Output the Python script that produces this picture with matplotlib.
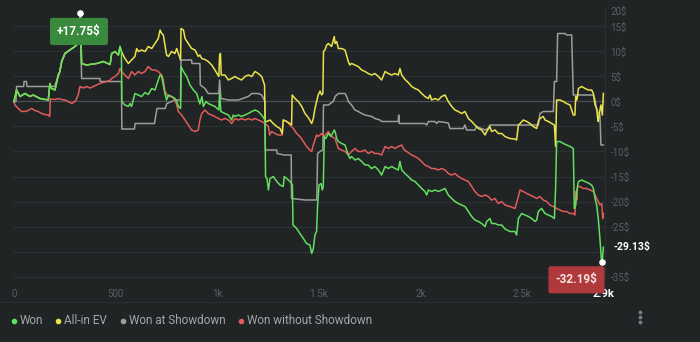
import numpy as np
import matplotlib.pyplot as plt
from matplotlib.lines import Line2D

plt.rcParams['font.family'] = ['Roboto', 'DejaVu Sans']

# ---- data (hands, $) ----
won_x = [0, 13, 30, 54, 79, 95, 128, 169, 177, 185, 202, 218, 226, 235, 251, 275, 300, 322, 327, 333,
         357, 407, 440, 473, 481, 497, 514, 522, 529, 531, 546, 563, 571, 579, 595, 612, 628, 645, 661,
         678, 694, 710, 719, 727, 735, 743, 751, 760, 776, 792, 801, 809, 820, 822, 834, 850, 866, 883,
         899, 915, 925, 932, 945, 956, 973, 989, 1008, 1012, 1018, 1038, 1055, 1071, 1079, 1087, 1104,
         1120, 1137, 1153, 1170, 1186, 1202, 1219, 1235, 1238, 1245, 1252, 1260, 1276, 1293, 1309, 1325,
         1330, 1342, 1358, 1370, 1373, 1391, 1407, 1424, 1440, 1456, 1465, 1473, 1481, 1489, 1494, 1501,
         1511, 1517, 1522, 1527, 1534, 1547, 1560, 1576, 1580, 1588, 1596, 1612, 1629, 1645, 1653, 1661,
         1678, 1694, 1711, 1727, 1743, 1760, 1776, 1793, 1809, 1826, 1842, 1858, 1875, 1891, 1899, 1908,
         1924, 1940, 1957, 1973, 1990, 2006, 2022, 2031, 2039, 2055, 2071, 2088, 2104, 2121, 2137, 2154,
         2170, 2186, 2203, 2219, 2236, 2252, 2268, 2285, 2301, 2318, 2326, 2342, 2350, 2367, 2383, 2400,
         2416, 2440, 2465, 2473, 2482, 2498, 2514, 2531, 2547, 2564, 2572, 2580, 2596, 2613, 2629, 2646,
         2659, 2665, 2670, 2687, 2703, 2719, 2736, 2752, 2757, 2764, 2769, 2777, 2793, 2810, 2826, 2842,
         2851, 2859, 2867, 2875, 2883, 2890, 2894, 2900]
won_y = [0, 2.3, 1.0, 1.6, 1.0, 1.3, 0.6, 0.3, 3.6, 2.6, 2.3, 5.3, 6.0, 8.0, 9.6, 10.3, 11.0, 11.8, 17.75, 7.6,
         7.3, 7.6, 8.0, 7.4, 9.6, 10.0, 9.3, 11.0, 10.0, 0.0, -0.7, -1.0, -0.4, -1.0, 1.6, 1.3, 1.0, 1.8, 1.4,
         2.6, 2.3, 4.3, 5.3, 5.0, 3.3, 1.6, 0.3, 1.3, 1.0, 0.6, 0.0, -1.0, -1.4, 7.0, 6.0, 5.0, 3.3, 2.3,
         1.6, -0.5, 1.0, -1.0, 0.0, -0.4, -0.7, -1.0, -1.7, 1.6, -2.0, -2.4, -2.7, -3.7, -2.7, -3.0, -2.7,
         -3.0, -2.7, -2.4, -2.0, -1.7, -2.0, -2.7, -3.7, -15.0, -15.4, -17.7, -15.4, -15.0, -16.0, -16.7, -17.0,
         -15.0, -15.4, -16.0, -16.7, -24.7, -25.4, -26.4, -27.4, -28.4, -28.7, -30.4, -29.4, -26.7, -26.0, -20.7, -16.7,
         -16.4, -17.7, -17.0, -7.0, -7.4, -6.4, -7.0, -5.7, -6.0, -7.4, -8.0, -8.4, -8.7, -10.7, -11.4, -11.0,
         -11.7, -11.4, -12.0, -12.7, -12.7, -13.4, -13.0, -13.7, -14.7, -13.0, -13.4, -13.0, -13.4, -13.7, -12.0, -13.7,
         -14.4, -15.0, -15.7, -16.0, -16.7, -17.4, -18.0, -18.7, -17.7, -18.0, -17.7, -18.0, -17.7, -17.4, -18.7, -19.4,
         -20.0, -20.4, -20.7, -21.0, -22.0, -23.0, -23.7, -24.0, -24.4, -25.0, -24.0, -23.4, -24.4, -24.4, -24.7, -24.7,
         -25.5, -26.0, -26.0, -26.7, -23.4, -22.4, -22.7, -23.0, -23.4, -24.0, -23.7, -22.0, -21.4, -22.4, -22.7, -23.0,
         -23.4, -17.4, -8.0, -8.0, -8.4, -8.7, -9.0, -9.4, -21.4, -20.7, -18.0, -16.0, -15.7, -16.0, -16.3, -16.7,
         -17.4, -19.4, -20.7, -23.4, -27.4, -31.4, -32.19, -29.13]

# all-in EV matches "Won" until the first big all-in around hand 530
allin_x = won_x[:29] + [546, 563, 579, 595, 604, 612, 628, 645, 661, 678, 694, 710, 719, 727, 735, 743, 751,
         760, 776, 792, 801, 809, 820, 822, 834, 842, 858, 874, 891, 907, 915, 924, 940, 956, 973, 989, 1008,
         1012, 1016, 1020, 1038, 1055, 1071, 1087, 1104, 1120, 1137, 1153, 1170, 1186, 1202, 1219, 1233, 1236,
         1243, 1260, 1276, 1293, 1309, 1320, 1325, 1342, 1358, 1366, 1369, 1383, 1399, 1416, 1432, 1448, 1465,
         1473, 1481, 1489, 1497, 1506, 1514, 1520, 1523, 1530, 1539, 1547, 1563, 1576, 1580, 1588, 1596, 1612,
         1629, 1645, 1653, 1661, 1678, 1694, 1711, 1727, 1743, 1760, 1776, 1793, 1809, 1826, 1842, 1858, 1875,
         1891, 1899, 1908, 1924, 1940, 1957, 1973, 1990, 2006, 2022, 2039, 2047, 2055, 2071, 2088, 2104, 2121,
         2137, 2154, 2170, 2186, 2203, 2219, 2236, 2252, 2268, 2285, 2301, 2318, 2326, 2342, 2350, 2367, 2383,
         2400, 2416, 2440, 2465, 2473, 2482, 2490, 2506, 2523, 2539, 2555, 2572, 2580, 2588, 2604, 2613, 2629,
         2646, 2659, 2665, 2670, 2687, 2703, 2719, 2736, 2744, 2752, 2760, 2764, 2769, 2773, 2777, 2793, 2810,
         2826, 2842, 2851, 2859, 2867, 2872, 2875, 2883, 2888, 2895, 2900]
allin_y = won_y[:29] + [8.6, 7.6, 8.3, 9.0, 10.6, 10.0, 10.3, 10.0, 11.0, 10.6, 11.6, 12.6, 14.3, 13.6, 13.3, 11.3, 9.3,
         9.0, 10.0, 9.6, 10.6, 9.6, 8.3, 14.6, 14.3, 12.6, 11.6, 10.6, 10.3, 9.0, 9.3, 8.6, 8.4, 8.0, 7.3, 6.3, 5.0,
         9.3, 9.6, 5.3, 5.3, 4.3, 4.6, 5.0, 4.6, 4.3, 5.0, 5.3, 5.0, 6.0, 5.6, 5.0, 3.3, -4.0,
         -4.0, -3.7, -4.4, -5.0, -5.4, -6.4, -3.7, -4.0, -4.4, -4.7, 1.3, 0.6, 0.0, -1.0, -2.4, -3.2, -4.4,
         -3.4, -1.4, 0.0, 1.3, 2.1, 1.3, 1.6, 10.0, 10.3, 11.3, 11.6, 11.0, 13.0, 11.6, 12.0, 10.6, 10.6,
         10.3, 8.0, 7.3, 7.6, 7.3, 7.0, 6.3, 6.0, 5.6, 5.3, 5.6, 5.0, 4.3, 6.0, 5.6, 5.3, 5.6,
         5.3, 6.6, 5.3, 4.4, 3.8, 3.0, 2.6, 2.3, 1.6, 1.0, 0.6, 1.3, 0.3, 0.6, 0.3, 1.0, 1.3,
         0.0, -1.0, -1.7, -2.0, -2.4, -2.0, -3.4, -4.0, -4.7, -5.4, -5.7, -6.7, -6.0, -5.0, -6.0, -5.7, -6.4,
         -6.4, -7.0, -7.4, -7.5, -7.7, -4.7, -4.4, -3.7, -4.0, -4.4, -5.0, -5.4, -4.0, -3.4, -3.0, -3.7, -4.0,
         -4.4, -4.7, -9.0, 0.3, 0.3, 0.0, -0.4, -0.7, -1.7, -2.7, -2.7, 1.0, 0.3, 1.0, 2.6, 3.0, 2.6,
         2.3, 2.3, 1.6, -0.7, -1.4, -3.4, -4.0, -1.7, -0.7, -2.7, 1.6]

sd_x = [0, 10, 13, 48, 50, 62, 64, 200, 218, 226, 235, 251, 275, 300, 322, 327, 333, 423, 425, 529, 531,
        593, 596, 692, 697, 704, 744, 752, 776, 792, 820, 822, 874, 876, 915, 917, 940, 956, 1008, 1012,
        1018, 1055, 1104, 1153, 1170, 1202, 1219, 1235, 1237, 1293, 1295, 1330, 1364, 1366, 1432, 1490,
        1494, 1506, 1520, 1523, 1547, 1571, 1580, 1596, 1629, 1637, 1645, 1661, 1678, 1694, 1711, 1727,
        1760, 1776, 1801, 1809, 1891, 1893, 1896, 2022, 2031, 2039, 2071, 2080, 2088, 2137, 2145, 2211,
        2219, 2227, 2268, 2276, 2293, 2318, 2334, 2342, 2580, 2588, 2604, 2654, 2659, 2670, 2675, 2711,
        2719, 2744, 2752, 2850, 2859, 2867, 2883, 2888, 2900]
sd_y = [0, 0, 3.0, 3.0, 4.0, 4.0, 3.0, 3.0, 5.0, 6.0, 8.0, 9.6, 10.3, 11.0, 11.8, 16.5, 4.6, 4.6, 4.0, 4.0, -5.5,
        -5.5, -4.4, -4.4, -3.0, -1.4, -1.4, -0.4, 0.0, 0.3, 0.3, 8.3, 8.3, 7.6, 7.6, 3.3, 2.6, 1.6, 1.6, 4.3,
        0.6, 0.3, 0.3, 1.0, 1.6, 1.6, 1.3, 0.0, -9.7, -9.7, -10.4, -10.7, -10.7, -19.4, -19.7, -19.7,
        -10.4, -10.0, -9.7, -0.7, -0.7, 0.0, 1.0, 1.6, 1.6, 1.0, 0.0, -0.7, -1.7, -2.0, -2.4, -2.7,
        -3.0, -3.4, -3.7, -4.0, -4.0, -2.7, -4.4, -4.4, -4.7, -4.0, -4.0, -4.4, -4.0, -4.3, -5.4, -5.4,
        -4.7, -5.7, -5.7, -5.0, -5.3, -5.7, -5.3, -4.7, -4.7, -2.4, -2.0, -2.0, 4.0, 4.0, 13.6, 13.6,
        13.3, 13.3, 1.3, 1.3, 0.3, -1.7, -2.7, -8.7, -8.7]

nosd_x = [0, 5, 21, 38, 54, 70, 87, 103, 120, 136, 152, 169, 176, 179, 202, 218, 234, 251, 267, 284, 300,
          308, 316, 325, 341, 357, 374, 390, 407, 423, 440, 456, 472, 481, 497, 514, 522, 530, 546, 563, 579,
          595, 612, 628, 645, 661, 678, 694, 710, 727, 735, 743, 760, 776, 792, 801, 809, 825, 842, 858, 874,
          891, 907, 915, 924, 940, 956, 973, 989, 1006, 1022, 1038, 1055, 1071, 1087, 1104, 1120, 1137, 1153,
          1170, 1186, 1202, 1219, 1235, 1252, 1258, 1268, 1284, 1301, 1320, 1325, 1342, 1358, 1375, 1391, 1407,
          1424, 1440, 1456, 1465, 1473, 1481, 1489, 1497, 1514, 1522, 1539, 1547, 1563, 1580, 1596, 1612, 1629,
          1645, 1661, 1678, 1694, 1711, 1727, 1743, 1760, 1776, 1793, 1809, 1826, 1842, 1858, 1875, 1891, 1908,
          1916, 1924, 1940, 1957, 1973, 1990, 2006, 2022, 2039, 2055, 2071, 2088, 2104, 2121, 2137, 2154, 2170,
          2186, 2203, 2219, 2236, 2252, 2268, 2285, 2301, 2318, 2334, 2350, 2367, 2383, 2400, 2416, 2440, 2465,
          2482, 2490, 2506, 2523, 2539, 2555, 2572, 2588, 2604, 2621, 2637, 2654, 2670, 2687, 2703, 2719, 2736,
          2752, 2760, 2765, 2769, 2773, 2785, 2801, 2818, 2834, 2851, 2859, 2867, 2875, 2883, 2892, 2897, 2900]
nosd_y = [0, -0.7, -1.4, -2.0, -2.0, -1.8, -1.4, -1.8, -2.0, -2.4, -2.6, -2.7, -3.0, 0.5, 0.4, 0.6, 0.4, 0.3, 0.0, -0.4, 0.0,
          0.5, 1.3, 3.0, 2.7, 3.0, 2.7, 3.0, 3.3, 3.6, 3.8, 4.0, 4.2, 4.6, 5.0, 5.6, 6.6, 6.0, 5.3, 4.6, 6.0,
          5.3, 6.0, 5.6, 6.0, 7.0, 6.3, 6.3, 6.0, 5.3, 4.3, 2.0, 1.0, 1.0, 0.3, -0.7, -2.0, -2.7, -3.7, -4.7, -5.7,
          -6.0, -5.7, -3.7, -2.4, -1.7, -2.4, -2.7, -3.0, -3.4, -3.7, -3.4, -3.7, -4.4, -3.4, -3.7, -3.4, -3.7, -3.4,
          -3.7, -3.4, -3.7, -4.0, -4.4, -5.0, -6.7, -6.0, -6.4, -6.7, -6.7, -3.7, -4.0, -4.7, -5.4, -6.4, -7.0,
          -8.0, -9.0, -9.7, -10.0, -8.7, -7.7, -6.7, -7.0, -6.4, -7.0, -6.4, -6.0, -7.0, -7.4, -9.4, -9.7, -10.0,
          -10.7, -10.0, -9.4, -10.0, -10.0, -9.7, -10.4, -10.0, -10.4, -10.4, -10.7, -9.0, -9.4, -9.0, -9.4, -9.0, -8.7,
          -9.4, -9.8, -10.2, -10.7, -11.0, -11.4, -12.0, -12.7, -13.0, -13.4, -13.4, -13.7, -13.4, -13.7, -14.4, -14.7, -14.4,
          -15.0, -15.4, -15.7, -16.0, -17.0, -18.0, -18.7, -19.0, -18.7, -19.0, -19.7, -19.4, -20.4, -20.0, -20.7, -21.0, -21.4,
          -19.0, -17.7, -18.0, -18.4, -18.7, -19.0, -19.4, -19.0, -19.7, -20.0, -20.7, -21.0, -21.4, -21.7, -22.0, -22.0, -22.4,
          -22.4, -22.7, -18.0, -19.7, -17.0, -17.0, -17.4, -17.4, -17.7, -18.0, -18.7, -19.4, -20.0, -20.7, -20.4, -23.4, -22.4]

series_names = ['Won', 'All-in EV', 'Won at Showdown', 'Won without Showdown']
series_colors = ['#62df5f', '#e9e34c', '#9d9d9d', '#e25b5b']

x_ticks = [0, 500, 1000, 1500, 2000, 2500, 2900]
x_labels = ['0', '500', '1k', '1.5k', '2k', '2.5k', '2.9k']
y_ticks = [-35, -25, -20, -15, -10, -5, 0, 5, 10, 15]

BG = '#212425'
GRID = '#2d3032'
TICK = '#5a5e60'

fig = plt.figure(figsize=(7, 3.42), dpi=100, facecolor=BG)
ax = fig.add_axes([12.5 / 700, 1 - 282 / 342, (605 - 12.5) / 700, (282 - 8) / 342])
ax.set_facecolor(BG)

for v in range(-35, 20, 5):
    ax.axhline(v, color='#4d5052' if v == 0 else GRID, lw=0.9, zorder=1)

lw = 1.1
ax.plot(sd_x, sd_y, color=series_colors[2], lw=lw, zorder=2)
ax.plot(nosd_x, nosd_y, color=series_colors[3], lw=lw, zorder=3)
ax.plot(allin_x, allin_y, color=series_colors[1], lw=lw, zorder=4)
ax.plot(won_x, won_y, color=series_colors[0], lw=lw, zorder=5)

ax.set_xlim(-7, 2908)
ax.set_ylim(-36.1, 18.7)

ax.yaxis.tick_right()
ax.set_yticks(y_ticks)
ax.set_yticklabels([f'{v}$' for v in y_ticks])
ax.tick_params(axis='y', length=0, pad=4, labelsize=7, labelcolor=TICK)
ax.annotate('20$', xy=(1, 1), xycoords='axes fraction', xytext=(4, -3), textcoords='offset points',
            ha='left', va='center', fontsize=7, color=TICK)

ax.set_xticks(x_ticks)
ax.set_xticklabels(x_labels)
ax.tick_params(axis='x', length=0, pad=5, labelsize=7, labelcolor=TICK)
last = ax.get_xticklabels()[-1]
last.set_color('white')
last.set_fontweight('bold')
last.set_fontsize(8)

for side in ['top', 'left', 'bottom']:
    ax.spines[side].set_visible(False)
ax.spines['right'].set_color(GRID)

# peak / trough markers with value boxes
wx = np.array(won_x)
wy = np.array(won_y)
i_max = int(np.argmax(wy))
i_min = int(np.argmin(wy))
ax.scatter([wx[i_max], wx[i_min]], [wy[i_max], wy[i_min]], s=14, color='white', zorder=7, clip_on=False)
ax.annotate(f'+{wy[i_max]:.2f}$', xy=(wx[i_max], wy[i_max]), xytext=(-1, -13.5), textcoords='offset points',
            ha='center', va='center', color='white', fontweight='bold', fontsize=8.5,
            bbox=dict(boxstyle='round,pad=0.6,rounding_size=0.2', fc='#3a8a3e', ec='none'), zorder=8)
ax.annotate(f'{wy[i_min]:.2f}$', xy=(wx[i_min], wy[i_min]), xytext=(-18.5, -12.5), textcoords='offset points',
            ha='center', va='center', color='#f4e4e4', fontweight='bold', fontsize=8.5,
            bbox=dict(boxstyle='round,pad=0.6,rounding_size=0.2', fc='#b0393b', ec='none'), zorder=8,
            annotation_clip=False)
ax.annotate(f'{wy[-1]:.2f}$', xy=(wx[-1], wy[-1]), xytext=(7, 0), textcoords='offset points',
            ha='left', va='center', color='white', fontweight='bold', fontsize=7.5, annotation_clip=False)

# separator and legend
fig.add_artist(Line2D([0, 610 / 700], [1 - 302 / 342] * 2, color='#2c2f31', lw=0.8))
dot_px = [14, 58, 123, 241]
for name, col, px in zip(series_names, series_colors, dot_px):
    yy = 1 - 321 / 342
    fig.add_artist(Line2D([px / 700], [yy], marker='o', ms=3, color=col, ls=''))
    fig.text((px + 6) / 700, yy, name, va='center', ha='left', fontsize=8.5, color='#a4a7a9')

fig.add_artist(Line2D([640 / 700] * 3, [1 - 312 / 342, 1 - 317 / 342, 1 - 322 / 342],
                      marker='o', ms=1.8, color='#7a7d7f', ls=''))

fig.savefig('out.png', dpi=100, facecolor=BG)
